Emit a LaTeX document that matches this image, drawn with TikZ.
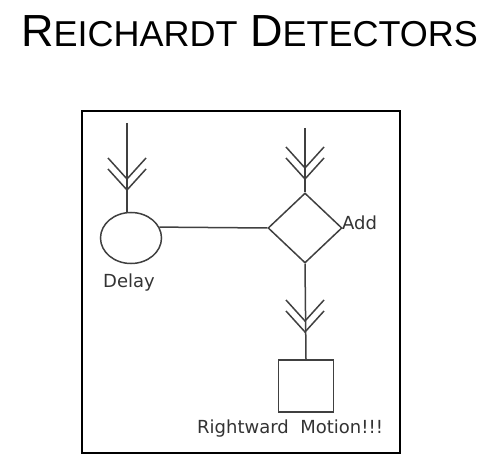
\documentclass[tikz,border=0pt]{standalone}
\usepackage{fontspec}
\newfontfamily\titlefont{Liberation Sans}
\newfontfamily\labelfont{DejaVu Sans}
\usetikzlibrary{shapes.geometric}

\tikzset{
  part/.style={draw=black!75, line width=1.5bp, inner sep=0pt},
  wire/.style={draw=black!75, line width=1.5bp},
  lbl/.style={font=\labelfont\fontsize{18bp}{18bp}\selectfont, text=black!80, inner sep=0pt},
}

\begin{document}
\begin{tikzpicture}[x=1bp, y=-1bp]
\useasboundingbox (0,0) rectangle (498,474);

\node[anchor=base, inner sep=0pt] (title) at (249.5,47) {\titlefont\fontsize{45bp}{45bp}\selectfont R{\fontsize{36bp}{36bp}\selectfont EICHARDT} D{\fontsize{36bp}{36bp}\selectfont ETECTORS}};

\draw[line width=2.5bp] (82,111) rectangle (400,453);

\node[part, ellipse, minimum width=61bp, minimum height=51bp] (delay) at (131,238) {};
\node[part, diamond, minimum width=74bp, minimum height=70bp] (add) at (305,228) {};
\node[part, rectangle, minimum width=55bp, minimum height=52bp] (motion) at (306,386) {};

\coordinate (in1) at (127,123);
\coordinate (in2) at (305,128);
\coordinate (tip1) at (127,179);
\coordinate (tip2) at (305,168);
\coordinate (tip3) at (305,321);

\draw[wire] (in1) -- (in1 |- delay.north);
\draw[wire] (delay.21) -- (add.west);
\draw[wire] (in2) -- (add.north);
\draw[wire] (add.south) -- (motion.north);

% double chevrons on the inputs
\foreach \t in {tip1,tip2,tip3}
  \foreach \d in {0,11}
    \draw[wire] ([shift={(-19,\d-21)}]\t) -- ([shift={(0,\d)}]\t) -- ([shift={(19,\d-21)}]\t);

\node[lbl, anchor=base west] (delaytxt) at (103,287) {Delay};
\node[lbl, anchor=base west] (addtxt) at (342,230) {Add};
\node[lbl, anchor=base west] (motiontxt) at (197,433) {Rightward\ \ Motion!!!};
\end{tikzpicture}
\end{document}
